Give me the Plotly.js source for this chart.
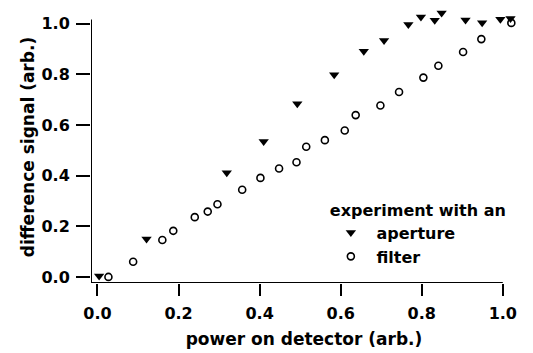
<!DOCTYPE html>
<html>
<head>
<meta charset="utf-8">
<script src="https://cdn.plot.ly/plotly-3.0.1.min.js"></script>
<style>
html,body{margin:0;padding:0;background:#fff;}
#chart{width:533px;height:353px;}
</style>
</head>
<body>
<div id="chart"></div>
<script>
var apertureX = [0.004, 0.121, 0.319, 0.410, 0.493, 0.584, 0.657, 0.707, 0.767, 0.798, 0.832, 0.849, 0.908, 0.949, 0.994, 1.019];
var apertureY = [0.004, 0.150, 0.411, 0.535, 0.684, 0.798, 0.891, 0.934, 0.997, 1.026, 1.013, 1.042, 1.014, 1.004, 1.017, 1.020];
var filterX = [0.027, 0.088, 0.160, 0.187, 0.240, 0.272, 0.296, 0.357, 0.402, 0.448, 0.491, 0.515, 0.561, 0.610, 0.637, 0.698, 0.744, 0.804, 0.841, 0.902, 0.947, 1.021];
var filterY = [0.000, 0.060, 0.146, 0.182, 0.236, 0.258, 0.287, 0.344, 0.391, 0.428, 0.453, 0.514, 0.540, 0.578, 0.639, 0.677, 0.730, 0.787, 0.834, 0.888, 0.939, 1.003];
var tickVals = [0, 0.2, 0.4, 0.6, 0.8, 1.0];
var tickText = ["0.0", "0.2", "0.4", "0.6", "0.8", "1.0"];

var FONT = "DejaVu Sans, Liberation Sans, Arial, sans-serif";
var xMin = -0.016, xAxisEnd = 1.0, xMax = 1.035;
var yMin = -0.024, yAxisEnd = 1.016, yMax = 1.05;

var traces = [
  {
    x: apertureX, y: apertureY, type: "scatter", mode: "markers",
    name: "\u00a0aperture", cliponaxis: false,
    marker: {symbol: "triangle-down", size: 9, color: "#000"}
  },
  {
    x: filterX, y: filterY, type: "scatter", mode: "markers",
    name: "\u00a0filter", cliponaxis: false,
    marker: {symbol: "circle-open", size: 7, color: "#000", line: {width: 1.6, color: "#000"}}
  }
];

var layout = {
  width: 533, height: 353,
  margin: {l: 91, r: 16, t: 11.4, b: 70},
  paper_bgcolor: "#fff", plot_bgcolor: "#fff",
  font: {family: FONT, size: 16, color: "#000", weight: "bold"},
  showlegend: true,
  legend: {
    x: 0.556, y: 0.324, xanchor: "left", yanchor: "top",
    bgcolor: "rgba(0,0,0,0)", borderwidth: 0,
    font: {family: FONT, size: 16, color: "#000", weight: "bold"},
    title: {text: "experiment with an", font: {family: FONT, size: 16, color: "#000", weight: "bold"}},
    indentation: 3,
    tracegroupgap: 0
  },
  shapes: [
    {type: "line", xref: "x", yref: "y", x0: xMin, x1: xAxisEnd, y0: yMin, y1: yMin,
     line: {color: "#000", width: 2}, layer: "above"},
    {type: "line", xref: "x", yref: "y", x0: xMin, x1: xMin, y0: yMin, y1: yAxisEnd,
     line: {color: "#000", width: 2}, layer: "above"}
  ],
  xaxis: {
    range: [xMin, xMax], tickvals: tickVals, ticktext: tickText,
    ticks: "outside", ticklen: 12, tickwidth: 2, tickcolor: "#000",
    ticklabelstandoff: 4,
    showline: false,
    showgrid: false, zeroline: false, automargin: false,
    tickfont: {family: FONT, size: 16, color: "#000", weight: "bold"},
    title: {text: "power on detector (arb.)", standoff: 10,
            font: {family: FONT, size: 17, color: "#000", weight: "bold"}}
  },
  yaxis: {
    range: [yMin, yMax], tickvals: tickVals, ticktext: tickText,
    ticks: "outside", ticklen: 14, tickwidth: 2, tickcolor: "#000",
    ticklabelstandoff: 3,
    showline: false,
    showgrid: false, zeroline: false, automargin: false,
    tickfont: {family: FONT, size: 16, color: "#000", weight: "bold"},
    title: {text: "difference signal (arb.)", standoff: 2,
            font: {family: FONT, size: 17, color: "#000", weight: "bold"}}
  }
};

Plotly.newPlot("chart", traces, layout, {displayModeBar: false, staticPlot: true});
</script>
</body>
</html>
